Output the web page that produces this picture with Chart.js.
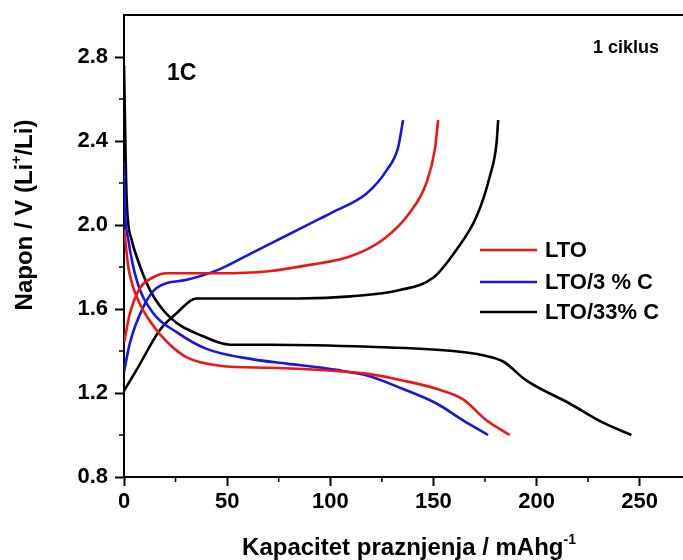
<!DOCTYPE html>
<html>
<head>
<meta charset="utf-8">
<script src="https://cdn.jsdelivr.net/npm/chart.js@4"></script>
<style>
  body { margin: 0; background: #fff; }
  #wrap { width: 683px; height: 560px; position: relative; }
</style>
</head>
<body>
<div id="wrap"><canvas id="chart"></canvas></div>
<script>
// capacity (mAh/g) and voltage (V)
const ltoChargeX = [0, 2.9, 7.8, 14, 20.7, 46.5, 70, 90, 109.5, 125.5, 138.6, 146.6, 150.7, 152.3];
const ltoChargeY = [1.44, 1.58, 1.70, 1.75, 1.77, 1.77, 1.78, 1.81, 1.85, 1.93, 2.06, 2.20, 2.36, 2.50];
const ltoDischargeX = [0, 0.5, 2.1, 6.1, 14.2, 22.3, 30.4, 46.5, 70.7, 95, 119, 135, 151.5, 164.4, 175.7, 187];
const ltoDischargeY = [1.98, 1.94, 1.80, 1.66, 1.52, 1.43, 1.37, 1.33, 1.32, 1.31, 1.29, 1.26, 1.22, 1.17, 1.07, 1.00];

const c3ChargeX = [0, 2.9, 9.4, 15.8, 31, 46.5, 62.6, 78.8, 95, 101, 117.6, 127.3, 132.9, 135.3];
const c3ChargeY = [1.30, 1.44, 1.61, 1.70, 1.74, 1.79, 1.87, 1.95, 2.03, 2.06, 2.15, 2.26, 2.37, 2.50];
const c3DischargeX = [0, 0.3, 2.1, 6.1, 14.2, 25.5, 40, 62.6, 78.8, 103, 119, 135, 151.5, 164.4, 176.5];
const c3DischargeY = [2.30, 2.12, 1.93, 1.74, 1.58, 1.49, 1.41, 1.36, 1.34, 1.31, 1.28, 1.22, 1.15, 1.07, 1.00];

const c33ChargeX = [0, 6.1, 17.4, 25.5, 35.2, 85, 110, 133.7, 150, 161, 170.9, 177.3, 180.6, 181.4];
const c33ChargeY = [1.21, 1.31, 1.50, 1.58, 1.65, 1.65, 1.66, 1.69, 1.75, 1.88, 2.04, 2.23, 2.39, 2.50];
const c33DischargeX = [0, 1.3, 3.7, 6.1, 12.6, 22.3, 38.4, 51.4, 70.7, 119, 159.5, 174, 183.8, 195, 216, 232, 246];
const c33DischargeY = [2.76, 2.12, 1.93, 1.85, 1.69, 1.56, 1.47, 1.43, 1.43, 1.42, 1.40, 1.38, 1.35, 1.26, 1.15, 1.06, 1.00];

const seriesNames = ["LTO", "LTO/3 % C", "LTO/33% C"];
const seriesColors = ["#f01515", "#1515e6", "#000000"];

const xTicks = [0, 50, 100, 150, 200, 250];
const xMinor = [25, 75, 125, 175, 225];
const yTicks = [0.8, 1.2, 1.6, 2.0, 2.4, 2.8];
const yMinor = [1.0, 1.4, 1.8, 2.2, 2.6];

const FONT = "'Liberation Sans', Arial, sans-serif";

function pts(xs, ys) {
  return xs.map((x, i) => ({ x: x, y: ys[i] }));
}

function curve(xs, ys, color) {
  return {
    data: pts(xs, ys),
    borderColor: color,
    borderWidth: 2.6,
    pointRadius: 0,
    showLine: true,
    fill: false,
    cubicInterpolationMode: "monotone"
  };
}

const datasets = [
  curve(ltoChargeX, ltoChargeY, seriesColors[0]),
  curve(ltoDischargeX, ltoDischargeY, seriesColors[0]),
  curve(c3ChargeX, c3ChargeY, seriesColors[1]),
  curve(c3DischargeX, c3DischargeY, seriesColors[1]),
  curve(c33ChargeX, c33ChargeY, seriesColors[2]),
  curve(c33DischargeX, c33DischargeY, seriesColors[2])
];

// text with superscript pieces
function drawParts(ctx, parts, x, y, align) {
  let total = 0;
  parts.forEach(p => { ctx.font = p.font; total += ctx.measureText(p.t).width; });
  let cx = align === "center" ? x - total / 2 : x;
  parts.forEach(p => {
    ctx.font = p.font;
    ctx.fillText(p.t, cx, y + (p.dy || 0));
    cx += ctx.measureText(p.t).width;
  });
}

const extras = {
  id: "extras",
  afterDraw(chart) {
    const ctx = chart.ctx;
    const area = chart.chartArea;
    const xs = chart.scales.x, ys = chart.scales.y;
    ctx.save();
    ctx.strokeStyle = "#000";
    ctx.lineWidth = 2;

    // top frame line
    ctx.beginPath();
    ctx.moveTo(area.left - 1, area.top);
    ctx.lineTo(area.right, area.top);
    ctx.stroke();

    // minor ticks
    ctx.lineWidth = 1.5;
    xMinor.forEach(v => {
      const px = xs.getPixelForValue(v);
      ctx.beginPath();
      ctx.moveTo(px, area.bottom);
      ctx.lineTo(px, area.bottom + 5);
      ctx.stroke();
    });
    yMinor.forEach(v => {
      const py = ys.getPixelForValue(v);
      ctx.beginPath();
      ctx.moveTo(area.left, py);
      ctx.lineTo(area.left - 5, py);
      ctx.stroke();
    });

    ctx.fillStyle = "#000";
    ctx.textBaseline = "alphabetic";
    ctx.textAlign = "left";

    // axis titles
    const big = "bold 24px " + FONT;
    const sup = "bold 14px " + FONT;
    drawParts(ctx, [
      { t: "Kapacitet praznjenja / mAhg", font: big },
      { t: "-1", font: sup, dy: -11 }
    ], 409, 555, "center");

    ctx.save();
    ctx.translate(32, 215);
    ctx.rotate(-Math.PI / 2);
    drawParts(ctx, [
      { t: "Napon / V (Li", font: big },
      { t: "+", font: sup, dy: -11 },
      { t: "/Li)", font: big }
    ], 0, 0, "center");
    ctx.restore();

    // annotations
    ctx.font = "bold 23px " + FONT;
    ctx.fillText("1C", 167, 80);
    ctx.font = "bold 18px " + FONT;
    ctx.fillText("1 ciklus", 593, 53);

    // legend
    const rows = [250, 282, 312];
    ctx.font = "bold 22px " + FONT;
    ctx.textBaseline = "middle";
    seriesNames.forEach((name, i) => {
      ctx.strokeStyle = seriesColors[i];
      ctx.lineWidth = 2.6;
      ctx.beginPath();
      ctx.moveTo(480, rows[i]);
      ctx.lineTo(537, rows[i]);
      ctx.stroke();
      ctx.fillText(name, 545, rows[i] + 1);
    });
    ctx.restore();
  }
};

const tickFont = { family: FONT, size: 22, weight: "bold" };

new Chart(document.getElementById("chart"), {
  type: "scatter",
  data: { datasets: datasets },
  options: {
    responsive: true,
    maintainAspectRatio: false,
    animation: false,
    layout: { padding: { top: 15, left: 0, right: 0, bottom: 0 } },
    plugins: {
      legend: { display: false },
      tooltip: { enabled: false }
    },
    scales: {
      x: {
        type: "linear",
        min: 0,
        max: 271,
        afterBuildTicks: s => { s.ticks = xTicks.map(v => ({ value: v })); },
        afterFit: s => { s.height = 83; s.paddingLeft = 0; s.paddingRight = 0; },
        grid: { drawOnChartArea: false, tickLength: 9, tickColor: "#000", tickWidth: 2 },
        border: { color: "#000", width: 2 },
        ticks: { font: tickFont, color: "#000", padding: 3, maxRotation: 0 }
      },
      y: {
        type: "linear",
        min: 0.8,
        max: 3.0,
        afterBuildTicks: s => { s.ticks = yTicks.map(v => ({ value: v })); },
        afterFit: s => { s.width = 124; s.paddingTop = 0; s.paddingBottom = 0; },
        grid: { drawOnChartArea: false, tickLength: 9, tickColor: "#000", tickWidth: 2 },
        border: { color: "#000", width: 2 },
        ticks: { font: tickFont, color: "#000", padding: 7, callback: v => v.toFixed(1) }
      }
    }
  },
  plugins: [extras]
});
</script>
</body>
</html>
